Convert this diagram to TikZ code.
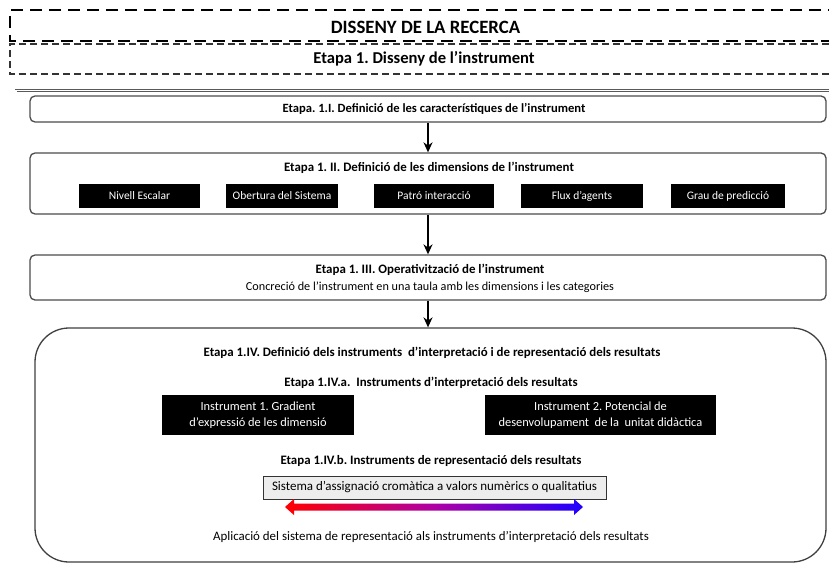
\documentclass[tikz,border=0pt]{standalone}
\usepackage{fontspec}
\setmainfont{Carlito}
\usetikzlibrary{arrows.meta}
\frenchspacing
\begin{document}
\begin{tikzpicture}[x=1pt,y=-1pt,
  stagebox/.style={draw=black!70, line width=1.3pt, rounded corners=5pt,
    minimum width=796pt, inner sep=0pt},
  dimbox/.style={fill=black, text=white, font=\fontsize{11.5}{13}\selectfont,
    minimum height=24pt, inner sep=0pt},
  instbox/.style={fill=black, text=white, font=\fontsize{12.4}{15.5}\selectfont,
    minimum height=40pt, align=center, inner sep=0pt},
  head/.style={font=\bfseries\fontsize{12.9}{15}\selectfont, inner sep=0pt},
  body/.style={font=\fontsize{12.2}{14}\selectfont, inner sep=0pt},
  flow/.style={-{Stealth[length=10pt,width=9pt]}, line width=1.8pt},
]
\useasboundingbox (0,0) rectangle (829,578);
\clip (0,0) rectangle (829,578);
\fill[white] (0,0) rectangle (829,578);

% heading frames
\draw[line width=2.4pt, dash pattern=on 12pt off 7pt] (840,10) -- (10,10) -- (10,41) -- (840,41);
\draw[line width=1.1pt, dash pattern=on 7pt off 4pt, black!80] (840,44) -- (10,44) -- (10,74) -- (840,74);
\node[font=\bfseries\fontsize{18.8}{21}\selectfont, inner sep=0pt] (title) at (425.5,27) {DISSENY DE LA RECERCA};
\node[font=\bfseries\fontsize{16.6}{18}\selectfont, inner sep=0pt] (stage) at (424,59) {Etapa 1. Disseny de l’instrument};

% outer frame
\draw[black!65, line width=0.6pt, double=white, double distance=1.2pt] (840,90.5) -- (16,90.5) -- (16,600);

% stage 1.I
\node[stagebox, minimum height=26pt] (b1) at (428,109) {};
\node[head, font=\bfseries\fontsize{12.6}{15}\selectfont] (t1) at (434,109) {Etapa. 1.I. Definició de les característiques de l’instrument};

% stage 1.II
\node[stagebox, minimum height=61pt] (b2) at (428,183.5) {};
\node[head] (t2) at (429,168) {Etapa 1. II. Definició de les dimensions de l’instrument};
\node[dimbox, minimum width=121pt] (d1) at (139.5,196) {Nivell Escalar};
\node[dimbox, minimum width=112pt] (d2) at (282,196) {Obertura del Sistema};
\node[dimbox, minimum width=120pt] (d3) at (434,196) {Patró interacció};
\node[dimbox, minimum width=122pt] (d4) at (582,196) {Flux d’agents};
\node[dimbox, minimum width=114pt] (d5) at (728,196) {Grau de predicció};

% stage 1.III
\node[stagebox, minimum height=45pt] (b3) at (428,277.5) {};
\node[head] (t3) at (430,270) {Etapa 1. III. Operativització de l’instrument};
\node[body] (s3) at (430,287) {Concreció de l’instrument en una taula amb les dimensions i les categories};

% stage 1.IV
\node[draw=black!75, line width=1.3pt, rounded corners=34pt, minimum width=791pt,
  minimum height=234pt, inner sep=0pt] (b4) at (430.5,445) {};
\node[head] (t4) at (432,353) {Etapa 1.IV. Definició dels instruments \ d’interpretació i de representació dels resultats};
\node[head] (t4a) at (431,383) {Etapa 1.IV.a. \ Instruments d’interpretació dels resultats};
\node[instbox, minimum width=192pt] (i1) at (258,415) {Instrument 1. Gradient\\d’expressió de les dimensió};
\node[instbox, minimum width=231pt] (i2) at (600.5,415) {Instrument 2. Potencial de\\desenvolupament \ de la \ unitat didàctica};
\node[head] (t4b) at (431,461) {Etapa 1.IV.b. Instruments de representació dels resultats};
\node[draw=black!80, line width=0.8pt, fill=black!7, minimum width=343pt, minimum height=23pt,
  inner sep=0pt, font=\fontsize{13}{15}\selectfont] (sys) at (434.5,487.5)
  {Sistema d’assignació cromàtica a valors numèrics o qualitatius};
\shade[left color=red, right color={rgb,255:red,30;green,0;blue,255},
  middle color={rgb,255:red,175;green,0;blue,165}]
  (285,507) -- (294,499) -- (294,503.5) -- (574,503.5) -- (574,499) -- (583,507)
  -- (574,515) -- (574,510.5) -- (294,510.5) -- (294,515) -- cycle;
\node[body, font=\fontsize{12.9}{15}\selectfont] (app) at (431,537) {Aplicació del sistema de representació als instruments d’interpretació dels resultats};

% flow between stages
\draw[flow] (b1) -- (b2);
\draw[flow] (b2) -- (b3);
\draw[flow] (b3.south) -- (b3.south |- b4.north);
\end{tikzpicture}
\end{document}
